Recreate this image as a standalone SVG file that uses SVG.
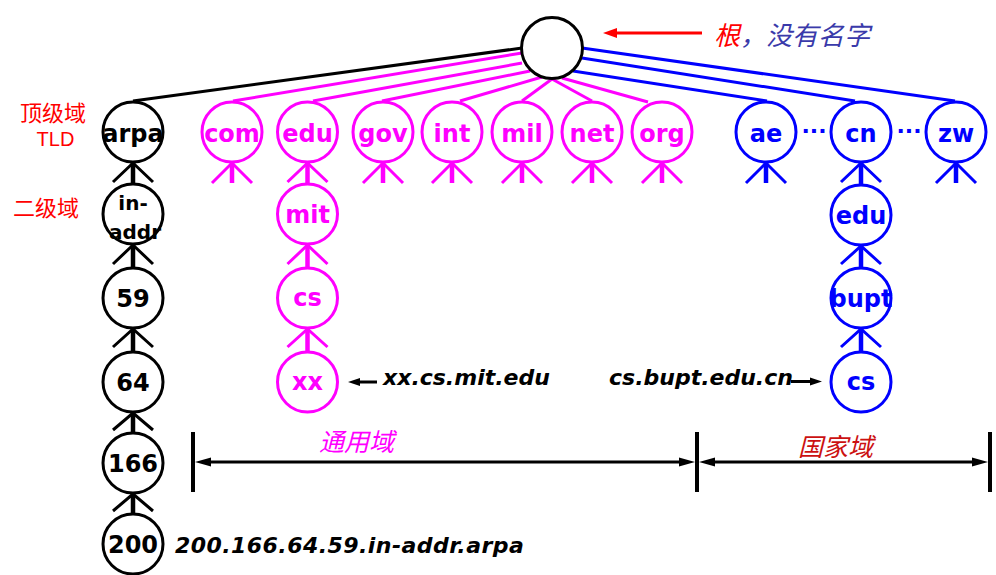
<svg xmlns="http://www.w3.org/2000/svg" width="996" height="575" viewBox="0 0 996 575">
<style>
.k{stroke:#000}.m{stroke:#ff00ff}.b{stroke:#0000ff}
.ln{fill:none;stroke-width:3}
.st{fill:none;stroke-width:4.5}
.wg{fill:none;stroke-width:3}
circle{fill:#fff;stroke-width:3}
.t{font-family:"DejaVu Sans",sans-serif;font-weight:bold;font-size:24px;text-anchor:middle}
.tk{fill:#000}.tm{fill:#ff00ff}.tb{fill:#0000ff}
.it{font-family:"DejaVu Sans",sans-serif;font-weight:bold;font-style:italic;font-size:22px;fill:#000}
.cjk{font-family:"Noto Sans CJK SC",sans-serif}
</style>
<defs>
<marker id="ak" markerWidth="16" markerHeight="10" refX="8" refY="5" orient="auto-start-reverse" markerUnits="userSpaceOnUse"><path d="M0,0.5 L16,5 L0,9.5 Z" fill="#000"/></marker>
<marker id="as" markerWidth="12" markerHeight="10" refX="6" refY="5" orient="auto-start-reverse" markerUnits="userSpaceOnUse"><path d="M0,1 L12,5 L0,9 Z" fill="#000"/></marker>
<marker id="ar" markerWidth="14" markerHeight="12" refX="7" refY="6" orient="auto-start-reverse" markerUnits="userSpaceOnUse"><path d="M0,1 L14,6 L0,11 Z" fill="#ff0000"/></marker>
</defs>
<rect width="996" height="575" fill="#fff"/>

<g id="connectors">
  <!-- root to TLDs -->
  <line class="ln k" x1="522" y1="48" x2="133" y2="101"/>
  <line class="ln m" x1="522" y1="53" x2="233" y2="101"/>
  <line class="ln m" x1="522" y1="63" x2="313" y2="101"/>
  <line class="ln m" x1="530" y1="71" x2="382" y2="101"/>
  <line class="ln m" x1="542" y1="77" x2="460" y2="101"/>
  <line class="ln m" x1="552" y1="79" x2="522" y2="101"/>
  <line class="ln m" x1="552" y1="79" x2="592" y2="101"/>
  <line class="ln m" x1="562" y1="78" x2="648" y2="102"/>
  <line class="ln b" x1="573" y1="71" x2="767" y2="101"/>
  <line class="ln b" x1="582" y1="58" x2="855" y2="101"/>
  <line class="ln b" x1="582" y1="48" x2="955" y2="101"/>
  <!-- stubs under TLDs -->
  <g class="m">
    <line class="st" x1="232" y1="162" x2="232" y2="183"/><path class="wg" d="M212,183 L232,163 L252,183"/>
    <line class="st" x1="383" y1="162" x2="383" y2="183"/><path class="wg" d="M363,183 L383,163 L403,183"/>
    <line class="st" x1="452" y1="162" x2="452" y2="183"/><path class="wg" d="M432,183 L452,163 L472,183"/>
    <line class="st" x1="522" y1="162" x2="522" y2="183"/><path class="wg" d="M502,183 L522,163 L542,183"/>
    <line class="st" x1="592" y1="162" x2="592" y2="183"/><path class="wg" d="M572,183 L592,163 L612,183"/>
    <line class="st" x1="662" y1="162" x2="662" y2="183"/><path class="wg" d="M642,183 L662,163 L682,183"/>
  </g>
  <g class="b">
    <line class="st" x1="766" y1="162" x2="766" y2="183"/><path class="wg" d="M746,183 L766,163 L786,183"/>
    <line class="st" x1="956" y1="162" x2="956" y2="183"/><path class="wg" d="M936,183 L956,163 L976,183"/>
  </g>
  <!-- arpa chain -->
  <g class="k">
    <line class="st" x1="133" y1="162" x2="133" y2="184"/><path class="wg" d="M113,182 L133,163 L153,182"/>
    <line class="st" x1="133" y1="244" x2="133" y2="268"/><path class="wg" d="M113,264 L133,245 L153,264"/>
    <line class="st" x1="133" y1="328" x2="133" y2="352"/><path class="wg" d="M113,347 L133,329 L153,347"/>
    <line class="st" x1="133" y1="412" x2="133" y2="433"/><path class="wg" d="M113,430 L133,413 L153,430"/>
    <line class="st" x1="133" y1="493" x2="133" y2="514"/><path class="wg" d="M113,511 L133,494 L153,511"/>
  </g>
  <!-- edu chain -->
  <g class="m">
    <line class="st" x1="307.5" y1="162" x2="307.5" y2="184"/><path class="wg" d="M287.5,182 L307.5,163 L327.5,182"/>
    <line class="st" x1="307.5" y1="244" x2="307.5" y2="268"/><path class="wg" d="M287.5,264 L307.5,245 L327.5,264"/>
    <line class="st" x1="307.5" y1="328" x2="307.5" y2="352"/><path class="wg" d="M287.5,347 L307.5,329 L327.5,347"/>
  </g>
  <!-- cn chain -->
  <g class="b">
    <line class="st" x1="861" y1="162" x2="861" y2="185"/><path class="wg" d="M841,182 L861,163 L881,182"/>
    <line class="st" x1="861" y1="245" x2="861" y2="268"/><path class="wg" d="M841,264 L861,246 L881,264"/>
    <line class="st" x1="861" y1="328" x2="861" y2="352"/><path class="wg" d="M841,347 L861,329 L881,347"/>
  </g>
  <!-- annotation arrows -->
  <line x1="702" y1="33" x2="610" y2="33" stroke="#ff0000" stroke-width="3" marker-end="url(#ar)"/>
  <line x1="377" y1="382" x2="354" y2="382" stroke="#000" stroke-width="3" marker-end="url(#as)"/>
  <line x1="791" y1="381.5" x2="816" y2="381.5" stroke="#000" stroke-width="3" marker-end="url(#as)"/>
  <!-- dimension lines -->
  <g stroke="#000">
    <line x1="193" y1="432" x2="193" y2="492" stroke-width="4"/>
    <line x1="697" y1="432" x2="697" y2="492" stroke-width="4"/>
    <line x1="990" y1="432" x2="990" y2="492" stroke-width="4"/>
    <line x1="203" y1="462" x2="687" y2="462" stroke-width="3" marker-start="url(#ak)" marker-end="url(#ak)"/>
    <line x1="707" y1="462" x2="980" y2="462" stroke-width="3" marker-start="url(#ak)" marker-end="url(#ak)"/>
  </g>
</g>

<g id="root"><circle class="k" cx="552" cy="48" r="30.5"/></g>

<g id="arpa"><circle class="k" cx="133" cy="132" r="30"/><text class="t tk" x="133" y="142">arpa</text></g>
<g id="com"><circle class="m" cx="232" cy="132" r="30"/><text class="t tm" x="232" y="142">com</text></g>
<g id="edu"><circle class="m" cx="307.5" cy="132" r="30"/><text class="t tm" x="307.5" y="142">edu</text></g>
<g id="gov"><circle class="m" cx="383" cy="132" r="30"/><text class="t tm" x="383" y="142">gov</text></g>
<g id="int"><circle class="m" cx="452" cy="132" r="30"/><text class="t tm" x="452" y="142">int</text></g>
<g id="mil"><circle class="m" cx="522" cy="132" r="30"/><text class="t tm" x="522" y="142">mil</text></g>
<g id="net"><circle class="m" cx="592" cy="132" r="30"/><text class="t tm" x="592" y="142">net</text></g>
<g id="org"><circle class="m" cx="662" cy="132" r="30"/><text class="t tm" x="662" y="142">org</text></g>
<g id="ae"><circle class="b" cx="766" cy="132" r="30"/><text class="t tb" x="766" y="142">ae</text></g>
<g id="cn"><circle class="b" cx="861" cy="132" r="30"/><text class="t tb" x="861" y="142">cn</text></g>
<g id="zw"><circle class="b" cx="956" cy="132" r="30"/><text class="t tb" x="956" y="142">zw</text></g>

<g id="in-addr"><circle class="k" cx="133" cy="214" r="30"/>
  <text class="t tk" x="133" y="210" style="font-size:20px">in-</text>
  <text class="t tk" x="135" y="239" style="font-size:20px">addr</text></g>
<g id="n59"><circle class="k" cx="133" cy="298" r="30"/><text class="t tk" x="133" y="307">59</text></g>
<g id="n64"><circle class="k" cx="133" cy="382" r="30"/><text class="t tk" x="133" y="391">64</text></g>
<g id="n166"><circle class="k" cx="133" cy="463" r="30"/><text class="t tk" x="133" y="472">166</text></g>
<g id="n200"><circle class="k" cx="133" cy="544" r="30"/><text class="t tk" x="133" y="553">200</text></g>

<g id="mit"><circle class="m" cx="307.5" cy="214" r="30"/><text class="t tm" x="307.5" y="223">mit</text></g>
<g id="cs-mit"><circle class="m" cx="307.5" cy="298" r="30"/><text class="t tm" x="307.5" y="306">cs</text></g>
<g id="xx"><circle class="m" cx="307.5" cy="382" r="30"/><text class="t tm" x="307.5" y="390">xx</text></g>

<g id="cn-edu"><circle class="b" cx="861" cy="215" r="30"/><text class="t tb" x="861" y="224">edu</text></g>
<g id="bupt"><circle class="b" cx="861" cy="298" r="30"/><text class="t tb" x="861" y="307">bupt</text></g>
<g id="cs-bupt"><circle class="b" cx="861" cy="382" r="30"/><text class="t tb" x="861" y="390">cs</text></g>

<g id="labels">
  <text class="cjk" x="53" y="121" font-size="22" fill="#ff0000" text-anchor="middle">顶级域</text>
  <text x="55.5" y="146" font-family="Liberation Sans, sans-serif" font-size="20" fill="#ff0000" text-anchor="middle">TLD</text>
  <text class="cjk" x="46" y="216" font-size="22" fill="#ff0000" text-anchor="middle">二级域</text>
  <text class="cjk" x="714" y="45" font-size="26" font-style="italic"><tspan fill="#ff0000">根</tspan><tspan fill="#3a3aaa">，没有名字</tspan></text>
  <text class="t tb" x="814" y="138" style="font-size:22px">···</text>
  <text class="t tb" x="909" y="138" style="font-size:22px">···</text>
  <text class="it" x="383" y="385">xx.cs.mit.edu</text>
  <text class="it" x="609" y="385">cs.bupt.edu.cn</text>
  <text class="it" x="175" y="553" letter-spacing="0.45">200.166.64.59.in-addr.arpa</text>
  <text class="cjk" x="319" y="451" font-size="25" font-style="italic" fill="#ff00ff">通用域</text>
  <text class="cjk" x="798" y="456" font-size="25" font-style="italic" fill="#cc1111">国家域</text>
</g>
</svg>
